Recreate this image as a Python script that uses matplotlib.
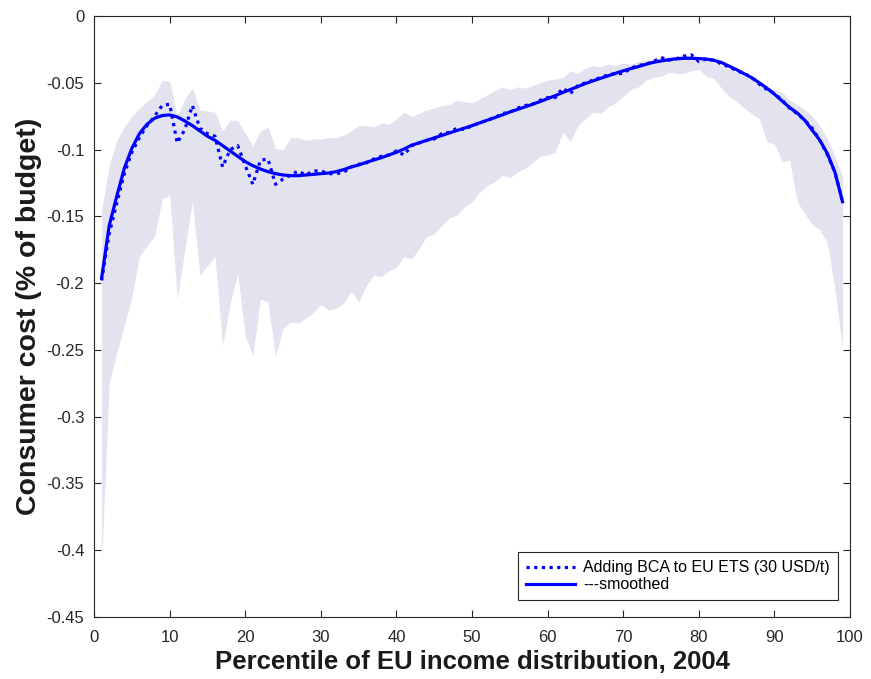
import numpy as np
import matplotlib
matplotlib.use('Agg')
import matplotlib.pyplot as plt

plt.rcParams['font.family'] = ['Liberation Sans', 'DejaVu Sans']

# percentiles of the income distribution
pct = np.arange(1, 100)

# consumer cost, % of budget (raw)
bca_raw = [
    -0.198, -0.163, -0.140, -0.118, -0.102, -0.091, -0.082, -0.075, -0.067, -0.066,
    -0.095, -0.085, -0.067, -0.084, -0.088, -0.090, -0.113, -0.100, -0.097, -0.112,
    -0.126, -0.108, -0.107, -0.126, -0.122, -0.119, -0.116, -0.119, -0.116, -0.116,
    -0.118, -0.118, -0.117, -0.113, -0.111, -0.110, -0.107, -0.105, -0.104, -0.101,
    -0.104, -0.097, -0.095, -0.093, -0.092, -0.088, -0.087, -0.084, -0.085, -0.082,
    -0.080, -0.078, -0.076, -0.073, -0.072, -0.069, -0.067, -0.066, -0.063, -0.061,
    -0.061, -0.054, -0.058, -0.052, -0.050, -0.048, -0.046, -0.044, -0.043, -0.043,
    -0.039, -0.037, -0.036, -0.034, -0.031, -0.033, -0.032, -0.030, -0.029, -0.034,
    -0.032, -0.033, -0.036, -0.038, -0.041, -0.043, -0.046, -0.051, -0.055, -0.058,
    -0.063, -0.069, -0.073, -0.078, -0.084, -0.093, -0.104, -0.117, -0.139,
]

# smoothed version
bca_smooth = [
    -0.196, -0.157, -0.135, -0.114, -0.099, -0.088, -0.081, -0.0765, -0.0745, -0.074,
    -0.0755, -0.0785, -0.082, -0.086, -0.090, -0.093, -0.097, -0.101, -0.105, -0.109,
    -0.112, -0.1145, -0.1165, -0.118, -0.119, -0.1195, -0.1195, -0.119, -0.1185, -0.118,
    -0.1175, -0.1165, -0.115, -0.113, -0.1115, -0.1095, -0.1078, -0.106, -0.104, -0.102,
    -0.0995, -0.0967, -0.0949, -0.093, -0.0912, -0.0894, -0.0875, -0.0857, -0.0839, -0.082,
    -0.080, -0.078, -0.076, -0.074, -0.0718, -0.0699, -0.068, -0.066, -0.064, -0.0618,
    -0.0596, -0.0572, -0.055, -0.0527, -0.0505, -0.0485, -0.0466, -0.0447, -0.0428, -0.041,
    -0.0393, -0.0378, -0.0361, -0.0346, -0.0336, -0.0327, -0.0320, -0.0316, -0.0316, -0.0318,
    -0.0322, -0.0332, -0.0348, -0.0375, -0.0402, -0.0432, -0.0462, -0.050, -0.054, -0.0585,
    -0.0635, -0.0685, -0.0725, -0.078, -0.0855, -0.093, -0.103, -0.117, -0.139,
]

# uncertainty band
band_hi = [
    -0.145, -0.112, -0.093, -0.083, -0.075, -0.069, -0.064, -0.059, -0.048, -0.049,
    -0.075, -0.062, -0.054, -0.070, -0.071, -0.072, -0.086, -0.078, -0.078, -0.088,
    -0.097, -0.086, -0.083, -0.099, -0.100, -0.091, -0.091, -0.093, -0.092, -0.092,
    -0.091, -0.091, -0.089, -0.086, -0.082, -0.082, -0.083, -0.080, -0.081, -0.077,
    -0.072, -0.075, -0.073, -0.070, -0.069, -0.067, -0.066, -0.063, -0.064, -0.065,
    -0.062, -0.059, -0.056, -0.053, -0.055, -0.053, -0.054, -0.052, -0.050, -0.048,
    -0.047, -0.046, -0.041, -0.043, -0.039, -0.037, -0.038, -0.036, -0.037, -0.035,
    -0.036, -0.034, -0.033, -0.032, -0.031, -0.030, -0.030, -0.029, -0.030, -0.030,
    -0.032, -0.035, -0.037, -0.040, -0.042, -0.045, -0.047, -0.050, -0.053, -0.055,
    -0.057, -0.063, -0.066, -0.070, -0.075, -0.082, -0.092, -0.105, -0.120,
]
band_lo = [
    -0.410, -0.275, -0.252, -0.232, -0.210, -0.180, -0.172, -0.165, -0.137, -0.134,
    -0.212, -0.175, -0.139, -0.194, -0.187, -0.180, -0.247, -0.215, -0.193, -0.240,
    -0.254, -0.212, -0.214, -0.255, -0.234, -0.229, -0.230, -0.226, -0.222, -0.216,
    -0.220, -0.219, -0.215, -0.206, -0.214, -0.202, -0.194, -0.195, -0.191, -0.188,
    -0.180, -0.182, -0.174, -0.165, -0.163, -0.157, -0.151, -0.149, -0.143, -0.139,
    -0.132, -0.127, -0.124, -0.119, -0.121, -0.117, -0.114, -0.110, -0.105, -0.104,
    -0.102, -0.087, -0.094, -0.082, -0.077, -0.072, -0.073, -0.068, -0.065, -0.060,
    -0.055, -0.053, -0.048, -0.046, -0.045, -0.042, -0.043, -0.043, -0.041, -0.040,
    -0.045, -0.047, -0.054, -0.060, -0.064, -0.069, -0.073, -0.077, -0.094, -0.096,
    -0.109, -0.108, -0.139, -0.148, -0.156, -0.160, -0.170, -0.205, -0.249,
]

fig = plt.figure(figsize=(8.71, 6.79), dpi=100)
ax = fig.add_axes([0.108, 0.0913, 0.868, 0.885])

ax.fill_between(pct, band_lo, band_hi, color='#e3e3f0', linewidth=0)
ax.plot(pct, bca_raw, color='blue', lw=2.3, linestyle=(0, (1, 1.4)),
        label='Adding BCA to EU ETS (30 USD/t)')
ax.plot(pct, bca_smooth, color='blue', lw=2.3, label='---smoothed')

ax.set_xlim(0, 100)
ax.set_ylim(-0.45, 0)
ax.set_xticks(np.arange(0, 101, 10))
ax.set_yticks(np.arange(-0.45, 0.001, 0.05))
ax.set_yticklabels(['-0.45', '-0.4', '-0.35', '-0.3', '-0.25', '-0.2',
                    '-0.15', '-0.1', '-0.05', '0'])
ax.tick_params(direction='in', length=5, width=0.8, colors='#262626',
               labelsize=12, top=True, right=True)
ax.tick_params(axis='x', pad=9)
ax.tick_params(axis='y', pad=7)
for s in ax.spines.values():
    s.set_color('#262626')
    s.set_linewidth(0.8)

ax.set_xlabel('Percentile of EU income distribution, 2004',
              fontsize=18.5, fontweight='bold', labelpad=4, color='#1a1a1a')
ax.set_ylabel('Consumer cost (% of budget)', fontsize=20.5, fontweight='bold',
              labelpad=3, color='#1a1a1a')

leg = ax.legend(loc='lower right', bbox_to_anchor=(0.984, 0.028), borderaxespad=0,
                fontsize=11.5, handlelength=3.1, fancybox=False, framealpha=1,
                edgecolor='#262626', borderpad=0.5, labelspacing=0.13,
                handletextpad=0.5)
leg.get_frame().set_linewidth(0.8)

fig.savefig('out.png', dpi=100)
